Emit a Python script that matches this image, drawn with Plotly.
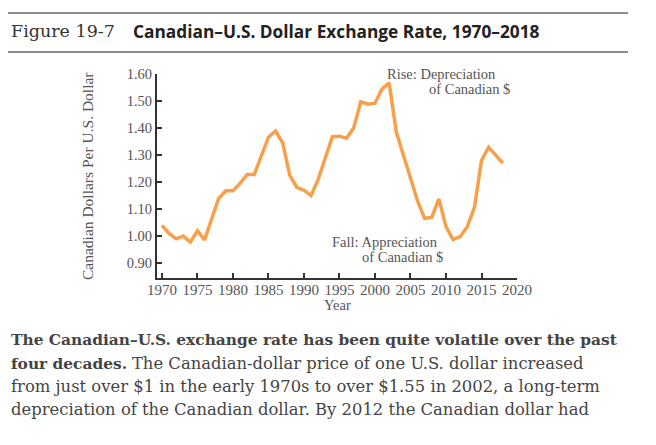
import plotly.graph_objects as go

years = list(range(1970, 2019))
rate = [1.04, 1.01, 0.99, 1.00, 0.978, 1.02, 0.986, 1.06, 1.14, 1.168, 1.168, 1.195, 1.228, 1.228, 1.30, 1.366, 1.389, 1.345,
        1.225, 1.18, 1.17, 1.15, 1.21, 1.29, 1.368, 1.37, 1.362, 1.40, 1.497, 1.488, 1.492, 1.545, 1.567,
        1.385, 1.30, 1.21, 1.13, 1.065, 1.07, 1.138, 1.035, 0.987, 0.998, 1.035, 1.106, 1.28, 1.329, 1.30, 1.27]

xticks = list(range(1970, 2021, 5))
yticks = [0.90, 1.00, 1.10, 1.20, 1.30, 1.40, 1.50, 1.60]
ytick_text = ["0.90", "1.00", "1.10", "1.20", "1.30", "1.40", "1.50", "1.60"]

W, H = 656, 445
L, R, T, B = 157, 139, 74, 167
PW, PH = W - L - R, H - T - B

def px(x):
    return (x - L) / PW

def py(y):
    return (H - B - y) / PH

serif = "Liberation Serif"
gray = "#555555"

fig = go.Figure()
fig.add_trace(go.Scatter(x=years, y=rate, mode="lines",
                         line=dict(color="#F7A04B", width=3.5), hoverinfo="skip"))

fig.update_layout(
    width=W, height=H, margin=dict(l=L, r=R, t=T, b=B),
    paper_bgcolor="white", plot_bgcolor="white", showlegend=False,
    xaxis=dict(range=[1969.3, 2020], tickvals=xticks, ticks="inside", ticklen=5, tickwidth=1.5,
               tickcolor="#333", showline=True, linecolor="#333", linewidth=2, showgrid=False,
               zeroline=False, ticklabelstandoff=-3,
               tickfont=dict(family=serif, size=15, color=gray)),
    yaxis=dict(range=[0.845, 1.60], tickvals=yticks, ticktext=ytick_text, ticks="inside", ticklen=5,
               tickwidth=1.5, tickcolor="#333", showline=True, linecolor="#333", linewidth=2,
               showgrid=False, zeroline=False, tickfont=dict(family=serif, size=14.5, color=gray)),
)

ann = []
def add(text, x, y, size, family=serif, color=gray, xanchor="left", angle=0):
    ann.append(dict(text=text, x=px(x), y=py(y), xref="paper", yref="paper", showarrow=False,
                    xanchor=xanchor, yanchor="middle", textangle=angle,
                    font=dict(family=family, size=size, color=color)))

add("Rise: Depreciation", 385, 74, 14.5)
add("of Canadian $", 427, 89, 14.5)
add("Fall: Appreciation", 330, 242, 14.5)
add("of Canadian $", 360, 257, 14.5)
add("Canadian Dollars Per U.S. Dollar", 87, 176, 15.5, xanchor="center", angle=-90)
add("Year", 337, 305, 14.5, xanchor="center")

add("Figure 19-7", 9, 31, 17.5, family="DejaVu Serif", color="#333")
add("<b>Canadian–U.S. Dollar Exchange Rate, 1970–2018</b>", 131, 31, 17.3, family="Open Sans", color="#222")

cap = "DejaVu Serif"
add("<b>The Canadian–U.S. exchange rate has been quite volatile over the past</b>", 9, 340, 15.4, family=cap, color="#444")
add("<b>four decades.</b> <span style='font-size:16.4px'>The Canadian-dollar price of one U.S. dollar increased</span>",
    9, 363, 15.4, family=cap, color="#444")
add("from just over $1 in the early 1970s to over $1.55 in 2002, a long-term", 9, 386, 16.4, family=cap, color="#444")
add("depreciation of the Canadian dollar. By 2012 the Canadian dollar had", 9, 409, 16.4, family=cap, color="#444")

fig.update_layout(annotations=ann, shapes=[
    dict(type="line", xref="paper", yref="paper", x0=px(8), x1=px(628), y0=py(13), y1=py(13),
         line=dict(color="#666", width=1.5)),
    dict(type="line", xref="paper", yref="paper", x0=px(8), x1=px(628), y0=py(52), y1=py(52),
         line=dict(color="#666", width=1.5)),
])

fig.write_html("out.html")
